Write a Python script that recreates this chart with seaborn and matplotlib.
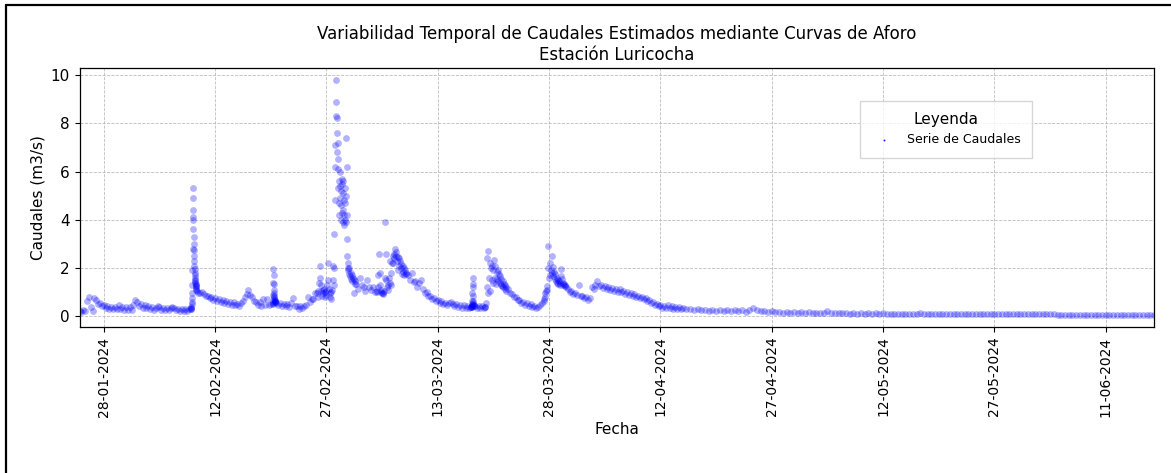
import matplotlib
matplotlib.use("Agg")
import matplotlib.pyplot as plt
import matplotlib.dates as mdates
from matplotlib.lines import Line2D
import pandas as pd
import seaborn as sns

# ---------------------------------------------------------------------------
# Caudales estimados (m3/s), Estación Luricocha, 2024.
# Cada tramo tiene su propio paso de registro: 6 h en estiaje,
# más fino en las crecidas rápidas y 12 h en la recesión final.
# ---------------------------------------------------------------------------

# 24-01 18:00 -> 08-02 12:00, cada 6 h
q_ene_feb = [
    0.22,
    0.16, 0.24, 0.20, 0.62,
    0.80, 0.40, 0.22, 0.74,
    0.66, 0.52, 0.56, 0.42,
    0.48, 0.36, 0.44, 0.32,
    0.40, 0.29, 0.40, 0.31,
    0.47, 0.32, 0.39, 0.27,
    0.37, 0.26, 0.37, 0.27,
    0.45, 0.66, 0.58, 0.44,
    0.50, 0.36, 0.45, 0.33,
    0.41, 0.30, 0.39, 0.28,
    0.36, 0.42, 0.38, 0.27,
    0.35, 0.25, 0.34, 0.25,
    0.33, 0.38, 0.34, 0.24,
    0.32, 0.23, 0.31, 0.22,
    0.30, 0.21, 0.30,
]

# 08-02 18:00 -> 09-02 11:30, cada 30 min (crecida del 9 de febrero)
q_pico_09feb = [
    0.30, 0.32, 0.35, 0.40, 0.50, 0.60, 0.75, 0.95, 1.30, 1.90, 2.80, 4.10,
    5.30, 4.90, 4.40, 4.00, 3.60, 3.30, 3.00, 2.75, 2.50, 2.30, 2.10, 1.95,
    1.80, 1.70, 1.60, 1.52, 1.45, 1.40, 1.35, 1.30, 1.25, 1.20, 1.15, 1.10,
]

# 09-02 12:00 -> 19-02 12:00, cada 6 h
q_feb_b = [
    1.05, 0.95,
    0.96, 1.00, 0.92, 0.84,
    0.86, 0.76, 0.79, 0.69,
    0.74, 0.64, 0.70, 0.60,
    0.66, 0.55, 0.62, 0.51,
    0.59, 0.48, 0.58, 0.45,
    0.53, 0.42, 0.55, 0.65,
    0.82, 0.92, 1.08, 0.88,
    0.80, 0.62, 0.60, 0.45,
    0.58, 0.42, 0.70, 0.47,
    0.72, 0.48, 0.52,
]

# 19-02 18:00 -> 20-02 02:30, cada 30 min
q_pico_19feb = [
    0.50, 0.55, 0.65, 0.90, 1.40, 1.95, 1.70, 1.35, 1.10,
    0.95, 0.85, 0.78, 0.72, 0.68, 0.65, 0.62, 0.60, 0.58,
]

# 20-02 06:00 -> 25-02 12:00, cada 6 h
q_feb_c = [
    0.56, 0.46, 0.54,
    0.44, 0.52, 0.41, 0.50,
    0.40, 0.55, 0.75, 0.43,
    0.42, 0.32, 0.43, 0.33,
    0.41, 0.45, 0.80, 0.58,
    0.70, 0.72, 0.98,
]

# 25-02 18:00 -> 27-02 22:00, cada 2 h
q_feb_d = [
    0.95, 0.80, 1.05,
    1.40, 2.10, 1.60, 1.30, 1.05, 0.85, 1.10, 0.95, 1.12, 0.78, 1.02, 0.90,
    1.05, 1.30, 2.20, 1.50, 1.15, 0.80, 0.95, 0.72, 1.00, 1.10, 1.50, 2.10,
]

# 28-02 00:00 -> 29-02 23:00, cada 1 h (crecida principal)
q_crecida = [
    1.30, 2.00, 3.40, 4.80, 6.20, 7.10, 8.30, 9.80, 8.90, 7.60, 8.20, 6.80,
    7.20, 6.10, 5.30, 6.50, 4.70, 5.60, 4.20, 6.00, 4.90, 5.40, 4.00, 5.20,
    4.60, 5.70, 4.30, 5.50, 3.90, 5.10, 4.40, 5.60, 3.80, 4.80, 4.20, 5.30,
    4.00, 4.70, 3.90, 5.00, 7.40, 6.20, 4.20, 3.20, 2.50, 2.20, 2.00, 1.90,
]

# 01-03 00:00 -> 01-03 22:00, cada 2 h
q_mar_a = [
    1.75, 2.00, 1.65, 1.80, 1.55, 1.70, 1.45, 1.60, 0.95, 1.55, 1.35, 1.45,
]

# 02-03 00:00 -> 04-03 12:00, cada 6 h
q_mar_b = [
    1.35, 1.15, 1.60, 1.30,
    1.20, 1.05, 1.50, 1.20,
    1.10, 1.22, 1.02,
]

# 04-03 18:00 -> 08-03 16:00, cada 2 h
q_mar_c = [
    1.00, 1.05, 1.20,
    1.70, 2.60, 1.80, 1.30, 1.10, 1.00, 0.95, 0.92, 0.98, 1.05, 1.60, 3.90,
    2.60, 1.50, 1.20, 1.10, 1.30, 1.60, 2.30, 1.40, 1.30, 1.80, 2.20, 2.50,
    2.20, 2.60, 2.40, 2.80, 2.50, 2.65, 2.30, 2.45, 1.90, 2.40, 2.10, 2.30,
    2.00, 2.15, 1.75, 2.10, 1.85, 2.00, 1.70, 1.90, 1.75,
]

# 08-03 18:00 -> 17-03 06:00, cada 6 h
q_mar_d = [
    1.80,
    1.70, 1.50, 1.78, 1.42,
    1.45, 1.22, 1.40, 1.50,
    1.12, 0.96, 1.00, 0.84,
    0.86, 0.72, 0.76, 0.64,
    0.69, 0.56, 0.62, 0.51,
    0.57, 0.46, 0.55, 0.60,
    0.53, 0.42, 0.50, 0.40,
    0.47, 0.36, 0.45, 0.35,
    0.42, 0.33,
]

# 17-03 12:00 -> 17-03 20:30, cada 30 min
q_pico_17mar = [
    0.38, 0.38, 0.39, 0.40, 0.42, 0.45, 0.52, 0.65, 0.95,
    1.35, 1.60, 1.20, 0.85, 0.65, 0.55, 0.48, 0.45, 0.43,
]

# 18-03 00:00 -> 19-03 06:00, cada 6 h
q_mar_e = [0.44, 0.34, 0.43, 0.33, 0.41, 0.33]

# 19-03 08:00 -> 22-03 06:00, cada 2 h
q_mar_f = [
    0.38, 0.40, 0.55, 1.20, 2.40, 0.95, 2.70, 1.60,
    2.20, 1.05, 2.00, 1.50, 2.10, 1.40, 1.90, 2.35, 1.60, 2.10, 1.35, 1.85,
    1.55, 1.90, 1.45, 1.75, 1.40, 1.65, 1.30, 1.55, 1.25, 1.45, 1.20, 1.35,
    1.15, 1.28, 1.05, 1.20,
]

# 22-03 12:00 -> 27-03 06:00, cada 6 h
q_mar_g = [
    1.12, 0.95,
    0.92, 0.78, 0.79, 0.66,
    0.66, 0.54, 0.59, 0.48,
    0.54, 0.43, 0.49, 0.39,
    0.44, 0.33, 0.40, 0.45,
    0.55, 0.62,
]

# 27-03 08:00 -> 30-03 06:00, cada 2 h
q_mar_h = [
    0.70, 0.80, 0.95, 1.05, 1.25, 1.10, 2.90, 2.00,
    1.60, 2.20, 1.70, 1.90, 1.80, 2.50, 2.05, 1.65, 1.85, 1.55, 1.75, 1.45,
    1.60, 1.40, 1.50, 1.35, 1.45, 1.30, 1.40, 1.65, 1.95, 1.55, 1.40, 1.30,
    1.35, 1.25, 1.30, 1.20,
]

# 30-03 12:00 -> 14-04 18:00, cada 6 h
q_abr = [
    1.15, 1.02,
    1.04, 0.92, 0.96, 0.90,
    1.30, 0.84, 0.86, 0.74,
    0.79, 0.68, 0.74, 1.20,
    1.15, 1.28, 1.45, 1.26,
    1.29, 1.18, 1.24, 1.14,
    1.20, 1.10, 1.16, 1.06,
    1.12, 1.02, 1.12, 1.00,
    1.04, 0.94, 1.00, 0.90,
    0.96, 0.86, 0.91, 0.81,
    0.86, 0.76, 0.81, 0.71,
    0.76, 0.64, 0.68, 0.56,
    0.60, 0.48, 0.53, 0.42,
    0.47, 0.36, 0.42, 0.33,
    0.47, 0.36, 0.41, 0.32,
    0.40, 0.31, 0.39, 0.30,
]

# 15-04 00:00 -> 17-06 12:00, cada 12 h (recesión)
q_recesion = [
    # abril
    0.34, 0.30, 0.32, 0.27, 0.29, 0.25, 0.28, 0.23, 0.27, 0.22, 0.26, 0.21,
    0.25, 0.21, 0.24, 0.20, 0.24, 0.19, 0.24, 0.35, 0.25, 0.21, 0.23, 0.19,
    0.20, 0.17, 0.17, 0.15, 0.17, 0.14, 0.16, 0.14,
    # mayo
    0.16, 0.14, 0.16, 0.13, 0.15, 0.13, 0.15, 0.20, 0.14, 0.12, 0.14, 0.12,
    0.13, 0.11, 0.13, 0.11, 0.13, 0.11, 0.12, 0.10, 0.12, 0.10, 0.12, 0.10,
    0.11, 0.10, 0.11, 0.09, 0.11, 0.09, 0.11, 0.09, 0.15, 0.09, 0.11, 0.09,
    0.11, 0.09, 0.11, 0.09, 0.11, 0.09, 0.11, 0.09, 0.10, 0.09, 0.10, 0.09,
    0.10, 0.09, 0.10, 0.09, 0.10, 0.08, 0.11, 0.08, 0.11, 0.08, 0.10, 0.08,
    0.11, 0.08,
    # junio
    0.10, 0.08, 0.11, 0.08, 0.10, 0.08, 0.09, 0.07, 0.07, 0.06, 0.07, 0.06,
    0.07, 0.06, 0.07, 0.05, 0.07, 0.05, 0.07, 0.05, 0.06, 0.05, 0.06, 0.05,
    0.06, 0.05, 0.06, 0.05, 0.06, 0.05, 0.06, 0.05, 0.06, 0.05,
]

# (inicio del tramo, paso de registro, valores)
tramos = [
    ("2024-01-24 18:00", "6h", q_ene_feb),
    ("2024-02-08 18:00", "30min", q_pico_09feb),
    ("2024-02-09 12:00", "6h", q_feb_b),
    ("2024-02-19 18:00", "30min", q_pico_19feb),
    ("2024-02-20 06:00", "6h", q_feb_c),
    ("2024-02-25 18:00", "2h", q_feb_d),
    ("2024-02-28 00:00", "1h", q_crecida),
    ("2024-03-01 00:00", "2h", q_mar_a),
    ("2024-03-02 00:00", "6h", q_mar_b),
    ("2024-03-04 18:00", "2h", q_mar_c),
    ("2024-03-08 18:00", "6h", q_mar_d),
    ("2024-03-17 12:00", "30min", q_pico_17mar),
    ("2024-03-18 00:00", "6h", q_mar_e),
    ("2024-03-19 08:00", "2h", q_mar_f),
    ("2024-03-22 12:00", "6h", q_mar_g),
    ("2024-03-27 08:00", "2h", q_mar_h),
    ("2024-03-30 12:00", "6h", q_abr),
    ("2024-04-15 00:00", "12h", q_recesion),
]

fechas_ticks = [
    "2024-01-28", "2024-02-12", "2024-02-27", "2024-03-13", "2024-03-28",
    "2024-04-12", "2024-04-27", "2024-05-12", "2024-05-27", "2024-06-11",
]

fechas, caudales = [], []
for inicio, paso, valores in tramos:
    fechas.extend(pd.date_range(inicio, periods=len(valores), freq=paso))
    caudales.extend(valores)

df = pd.DataFrame({"Fecha": fechas, "Caudal": caudales})
assert df["Fecha"].is_monotonic_increasing

# ---------------------------------------------------------------------------
sns.set_style("ticks")
plt.rcParams.update({
    "font.family": ["DejaVu Sans"],
    "text.color": "black",
    "axes.labelcolor": "black",
    "xtick.color": "black",
    "ytick.color": "black",
})

fig = plt.figure(figsize=(11.71, 4.73), dpi=100)
ax = fig.add_axes([0.068, 0.309, 0.9175, 0.547])

sns.scatterplot(
    data=df, x="Fecha", y="Caudal", ax=ax,
    color="blue", s=24, alpha=0.3, linewidth=0,
    label="Serie de Caudales",
)

ax.set_xlim(df["Fecha"].min(), df["Fecha"].max())
ax.set_xticks(pd.to_datetime(fechas_ticks))
ax.xaxis.set_major_formatter(mdates.DateFormatter("%d-%m-%Y"))
ax.tick_params(axis="x", labelrotation=90, labelsize=10)
ax.tick_params(axis="y", labelsize=11)

ax.grid(True, linestyle="--", linewidth=0.6, color="#b5b5b5", alpha=0.9)
ax.set_axisbelow(True)
for sp in ax.spines.values():
    sp.set_color("black")
    sp.set_linewidth(0.9)

ax.set_title(
    "Variabilidad Temporal de Caudales Estimados mediante Curvas de Aforo\n"
    "Estación Luricocha",
    fontsize=12, color="black",
)
ax.set_xlabel("Fecha", fontsize=11)
ax.set_ylabel("Caudales (m3/s)", fontsize=11)

leg = ax.legend(
    title="Leyenda", loc="upper right", bbox_to_anchor=(0.886, 0.873),
    borderaxespad=0, fontsize=9, title_fontsize=11, markerscale=0.28,
    frameon=True, fancybox=False, borderpad=0.9,
)
leg.get_frame().set_edgecolor("#cccccc")
for h in leg.legend_handles:
    h.set_alpha(0.9)

# marco exterior de la figura
fig.add_artist(Line2D([0.0047, 0.0047], [0, 0.9894], color="black", lw=1.6,
                      transform=fig.transFigure))
fig.add_artist(Line2D([0.0047, 1.0], [0.9894, 0.9894], color="black", lw=1.6,
                      transform=fig.transFigure))

fig.savefig("out.png", dpi=100)
